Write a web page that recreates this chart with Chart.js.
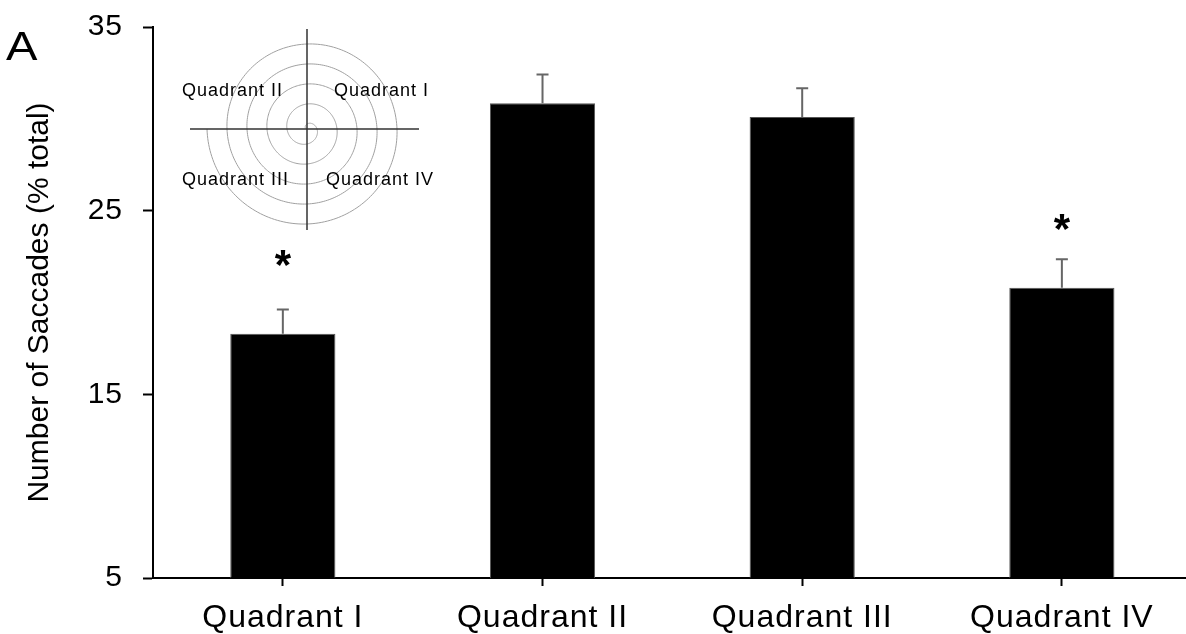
<!DOCTYPE html>
<html>
<head>
<meta charset="utf-8">
<script src="https://cdn.jsdelivr.net/npm/chart.js@4/dist/chart.umd.min.js"></script>
<style>
html,body{margin:0;padding:0;background:#fff;overflow:hidden}
#wrap{width:1186px;height:634px;position:relative}
</style>
</head>
<body>
<div id="wrap"><canvas id="c"></canvas></div>
<script>
// ---- data ----
const categories = ['Quadrant I', 'Quadrant II', 'Quadrant III', 'Quadrant IV'];
const saccadePercent = [18.3, 30.85, 30.1, 20.8];
const errorSEM = [1.32, 1.57, 1.57, 1.55];
const asteriskLevel = [22.4, null, null, 24.4];
const yTicks = [5, 15, 25, 35];
const yTitle = 'Number of Saccades (% total)';
const panelLabel = 'A';
const insetLabels = ['Quadrant II', 'Quadrant I', 'Quadrant III', 'Quadrant IV'];

const FONT = '"Liberation Sans", Arial, Helvetica, sans-serif';
Chart.defaults.font.family = FONT;
Chart.defaults.color = '#000';

const overlay = {
  id: 'overlay',
  beforeDraw(chart) { chart.ctx.letterSpacing = '0px'; },
  afterDatasetsDraw(chart) {
    const ctx = chart.ctx;
    const x = chart.scales.x, y = chart.scales.y;
    const ca = chart.chartArea;
    ctx.save();
    ctx.letterSpacing = '0px';
    // error bars (upper only)
    ctx.strokeStyle = '#666';
    ctx.lineWidth = 2;
    saccadePercent.forEach((v, i) => {
      const px = x.getPixelForValue(i + 1);
      const y0 = y.getPixelForValue(v);
      const y1 = y.getPixelForValue(v + errorSEM[i]);
      ctx.beginPath();
      ctx.moveTo(px, y0); ctx.lineTo(px, y1);
      ctx.moveTo(px - 6, y1); ctx.lineTo(px + 6, y1);
      ctx.stroke();
    });
    // asterisks
    ctx.fillStyle = '#000';
    ctx.font = 'bold 42px ' + FONT;
    ctx.textAlign = 'center';
    ctx.textBaseline = 'alphabetic';
    asteriskLevel.forEach((lv, i) => {
      if (lv == null) return;
      const px = x.getPixelForValue(i + 1);
      const py = y.getPixelForValue(lv);
      const m = ctx.measureText('*');
      const off = (m.actualBoundingBoxAscent - m.actualBoundingBoxDescent) / 2;
      ctx.fillText('*', px, py + off);
    });
    // inset diagram
    const cx = ca.left + 154, cy = ca.top + 102;
    ctx.strokeStyle = '#a0a0a0';
    ctx.lineWidth = 1;
    ctx.beginPath();
    for (let t = -0.5; t <= 4.5001; t += 0.005) {
      const r = 10 + 20 * t;
      const a = 2 * Math.PI * t;
      const px = cx + Math.max(r, 0) * Math.cos(a), py = cy + Math.max(r, 0) * Math.sin(a);
      if (t === -0.5) ctx.moveTo(px, py); else ctx.lineTo(px, py);
    }
    ctx.stroke();
    ctx.strokeStyle = '#333';
    ctx.lineWidth = 1.5;
    ctx.beginPath();
    ctx.moveTo(cx - 117, cy); ctx.lineTo(cx + 112, cy);
    ctx.moveTo(cx, cy - 100); ctx.lineTo(cx, cy + 101);
    ctx.stroke();
    ctx.fillStyle = '#000';
    ctx.font = '18px ' + FONT;
    ctx.letterSpacing = '1px';
    ctx.textBaseline = 'alphabetic';
    ctx.textAlign = 'right';
    ctx.fillText(insetLabels[0], cx - 24, cy - 33);
    ctx.fillText(insetLabels[2], cx - 18, cy + 56);
    ctx.textAlign = 'left';
    ctx.fillText(insetLabels[1], cx + 27, cy - 33);
    ctx.fillText(insetLabels[3], cx + 19, cy + 56);
    // panel letter
    ctx.letterSpacing = '0px';
    ctx.fillStyle = '#000';
    ctx.font = '41px ' + FONT;
    ctx.textAlign = 'left';
    ctx.translate(6, 60);
    ctx.scale(1.15, 1);
    ctx.fillText(panelLabel, 0, 0);
    ctx.restore();
    // tick labels (drawn after this hook, z:1) get a slight widening
    ctx.letterSpacing = '1px';
  },
  afterDraw(chart) { chart.ctx.letterSpacing = '0px'; }
};

new Chart(document.getElementById('c'), {
  type: 'bar',
  data: {
    datasets: [{
      data: saccadePercent.map((v, i) => ({ x: i + 1, y: v })),
      backgroundColor: '#000',
      borderColor: '#555',
      borderWidth: 1,
      barPercentage: 0.405,
      categoryPercentage: 1
    }]
  },
  options: {
    responsive: true,
    maintainAspectRatio: false,
    animation: false,
    events: [],
    layout: { padding: { top: 27, right: 0, bottom: 0, left: 0 } },
    plugins: { legend: { display: false }, tooltip: { enabled: false } },
    scales: {
      x: {
        type: 'linear',
        offset: false,
        min: 0.5,
        max: 4.478,
        afterBuildTicks: s => { s.ticks = categories.map((c, i) => ({ value: i + 1 })); },
        afterFit: s => { s.height = 56; s.paddingLeft = 0; s.paddingRight = 0; },
        grid: { display: true, offset: false, drawOnChartArea: false, drawTicks: true, tickLength: 8, tickColor: '#000', tickWidth: 2 },
        border: { display: true, color: '#000', width: 2 },
        ticks: {
          z: 1, color: '#000', font: { size: 32 }, padding: 13,
          maxRotation: 0, autoSkip: false,
          callback: v => categories[v - 1] || ''
        }
      },
      y: {
        min: 5,
        max: 35,
        afterBuildTicks: s => { s.ticks = yTicks.map(v => ({ value: v })); },
        afterFit: s => { s.width = 153; s.paddingTop = 0; s.paddingBottom = 0; },
        grid: { display: true, drawOnChartArea: false, drawTicks: true, tickLength: 10, tickColor: '#000', tickWidth: 2 },
        border: { display: true, color: '#000', width: 2 },
        ticks: { z: 1, color: '#000', font: { size: 30 }, padding: 20 },
        title: { display: true, text: yTitle, color: '#000', font: { size: 30 }, padding: { top: 22, bottom: 0 } }
      }
    }
  },
  plugins: [overlay]
});
</script>
</body>
</html>
